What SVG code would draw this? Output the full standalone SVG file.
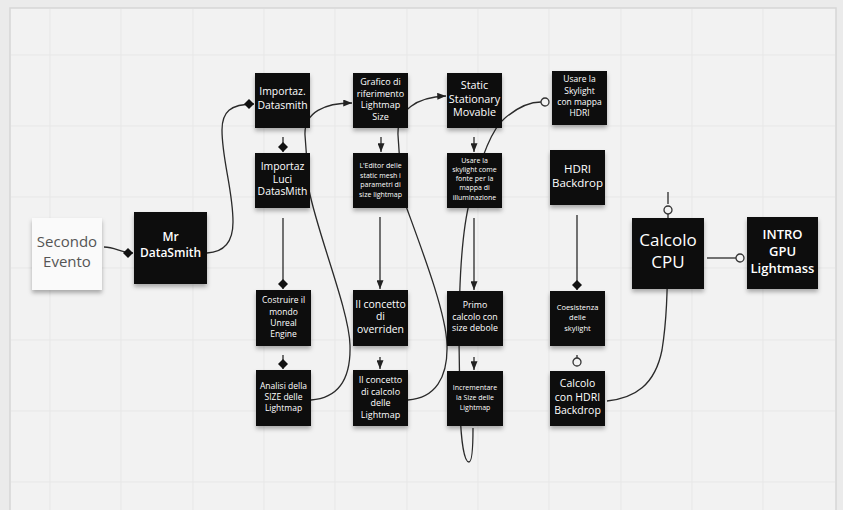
<svg xmlns="http://www.w3.org/2000/svg" width="843" height="510" viewBox="0 0 843 510">
<defs>
<style>
.note{fill:#0e0e0e;filter:url(#sh)}
.light{fill:#fafafa;filter:url(#sh)}
.t{font-family:"Open Sans","Noto Sans","Liberation Sans",sans-serif;fill:#fff;text-anchor:middle}
.g{stroke:#e7e7e7;stroke-width:1}
.c{fill:none;stroke:#2a2a2a;stroke-width:1.3}
</style>
<filter id="sh" x="-20%" y="-20%" width="140%" height="150%">
<feDropShadow dx="0" dy="3" stdDeviation="2" flood-color="#000" flood-opacity="0.3"/>
</filter>
<marker id="arr" viewBox="0 0 10 8" refX="10" refY="4" markerWidth="9" markerHeight="7" orient="auto" markerUnits="userSpaceOnUse">
<path d="M0,0 L10,4 L0,8 Z" fill="#222"/>
</marker>
<marker id="dia" viewBox="0 0 10 10" refX="10" refY="5" markerWidth="10" markerHeight="10" orient="auto" markerUnits="userSpaceOnUse">
<path d="M0,5 L5,0 L10,5 L5,10 Z" fill="#111"/>
</marker>
<marker id="cir" viewBox="0 0 10 10" refX="1" refY="5" markerWidth="10" markerHeight="10" orient="auto" markerUnits="userSpaceOnUse">
<circle cx="5" cy="5" r="4" fill="#f4f4f4" stroke="#333" stroke-width="1.3"/>
</marker>
</defs>
<rect x="0" y="0" width="843" height="510" fill="#ebebeb"/>
<rect x="10" y="8" width="826" height="510" fill="#f2f2f2" stroke="#d6d6d6" stroke-width="1.5"/>
<g id="grid">
<path class="g" d="M50,9V510M121,9V510M193,9V510M264,9V510M335,9V510M407,9V510M478,9V510M549,9V510M621,9V510M692,9V510M763,9V510"/>
<path class="g" d="M11,55H835M11,126H835M11,197H835M11,268H835M11,340H835M11,411H835M11,482H835"/>
</g>
<g id="connectors">
<path class="c" d="M104,247 C116,247 120,253 133,253" marker-end="url(#dia)"/>
<path class="c" d="M207,253 C226,252 233,240 233,222 C233,190 222,160 222,130 C222,112 230,104 254,104" marker-end="url(#dia)"/>
<path class="c" d="M283,137 L283,152" marker-end="url(#dia)"/>
<path class="c" d="M283,218 L283,289" marker-end="url(#dia)"/>
<path class="c" d="M283,355 L283,369" marker-end="url(#dia)"/>
<path class="c" d="M311,400 C340,398 351,378 350,345 C349,310 318,235 309,190 L305,135 C304,112 325,103 352,103" marker-end="url(#arr)"/>
<path class="c" d="M381,137 L381,152" marker-end="url(#arr)"/>
<path class="c" d="M380,217 L380,289" marker-end="url(#arr)"/>
<path class="c" d="M380,357 L380,369" marker-end="url(#arr)"/>
<path class="c" d="M408,400 C435,398 448,378 447,345 C446,310 418,240 402,195 L398,135 C397,110 417,97 446,96" marker-end="url(#arr)"/>
<path class="c" d="M474,137 L474,152" marker-end="url(#arr)"/>
<path class="c" d="M474,218 L474,290" marker-end="url(#arr)"/>
<path class="c" d="M474,357 L474,370" marker-end="url(#arr)"/>
<path class="c" d="M473,428 C473,450 472,462 469,462 C464,462 461,440 460,410 L459,340 C459,280 462,230 470,200 C478,168 490,130 505,118 C518,107 530,102 541,102" marker-end="url(#cir)"/>
<path class="c" d="M577,215 L577,290" marker-end="url(#dia)"/>
<path class="c" d="M577,355 L577,358" marker-end="url(#cir)"/>
<path class="c" d="M607,401 C635,398 655,385 662,350 C666,325 668,300 668,214" marker-end="url(#cir)"/>
<path class="c" d="M668,204 L668,192"/>
<path class="c" d="M707,258 L736,258" marker-end="url(#cir)"/>
</g>
<g id="n-secondo">
<rect class="light" x="32" y="218" width="70" height="72"/>
<text class="t" style="fill:#555;font-size:15px"><tspan x="67" y="247">Secondo</tspan><tspan x="67" y="267">Evento</tspan></text>
</g>
<g id="n-mr">
<rect class="note" x="134" y="212" width="73" height="72"/>
<text class="t" style="font-size:12px;font-weight:600"><tspan x="170.5" y="241">Mr</tspan><tspan x="170.5" y="256.5">DataSmith</tspan></text>
</g>
<g id="n-importaz">
<rect class="note" x="255" y="73" width="55" height="55"/>
<text class="t" style="font-size:10.4px"><tspan x="282.5" y="95">Importaz.</tspan><tspan x="282.5" y="108.5">Datasmith</tspan></text>
</g>
<g id="n-luci">
<rect class="note" x="255" y="153" width="55" height="55"/>
<text class="t" style="font-size:10.4px"><tspan x="282.5" y="170">Importaz</tspan><tspan x="282.5" y="182.5">Luci</tspan><tspan x="282.5" y="195">DatasMith</tspan></text>
</g>
<g id="n-costruire">
<rect class="note" x="256" y="290" width="55" height="56"/>
<text class="t" style="font-size:8.5px"><tspan x="283.5" y="303">Costruire il</tspan><tspan x="283.5" y="315">mondo</tspan><tspan x="283.5" y="326">Unreal</tspan><tspan x="283.5" y="337">Engine</tspan></text>
</g>
<g id="n-analisi">
<rect class="note" x="256" y="370" width="55" height="56"/>
<text class="t" style="font-size:8.5px"><tspan x="283.5" y="389">Analisi della</tspan><tspan x="283.5" y="400">SIZE delle</tspan><tspan x="283.5" y="411">Lightmap</tspan></text>
</g>
<g id="n-grafico">
<rect class="note" x="353" y="73" width="55" height="55"/>
<text class="t" style="font-size:9px"><tspan x="380.5" y="85">Grafico di</tspan><tspan x="380.5" y="96.5">riferimento</tspan><tspan x="380.5" y="108">Lightmap</tspan><tspan x="380.5" y="120">Size</tspan></text>
</g>
<g id="n-editor">
<rect class="note" x="353" y="153" width="55" height="55"/>
<text class="t" style="font-size:7px"><tspan x="380.5" y="168">L'Editor delle</tspan><tspan x="380.5" y="177.5">static mesh i</tspan><tspan x="380.5" y="187">parametri di</tspan><tspan x="380.5" y="196.5">size lightmap</tspan></text>
</g>
<g id="n-overriden">
<rect class="note" x="353" y="290" width="55" height="56"/>
<text class="t" style="font-size:10.4px"><tspan x="380.5" y="307.5">Il concetto</tspan><tspan x="380.5" y="320">di</tspan><tspan x="380.5" y="332.5">overriden</tspan></text>
</g>
<g id="n-calcolo-lm">
<rect class="note" x="353" y="370" width="55" height="56"/>
<text class="t" style="font-size:9px"><tspan x="380.5" y="383">Il concetto</tspan><tspan x="380.5" y="394.5">di calcolo</tspan><tspan x="380.5" y="406">delle</tspan><tspan x="380.5" y="417.5">Lightmap</tspan></text>
</g>
<g id="n-static">
<rect class="note" x="447" y="73" width="55" height="55"/>
<text class="t" style="font-size:10.8px"><tspan x="474.5" y="89">Static</tspan><tspan x="474.5" y="102.5">Stationary</tspan><tspan x="474.5" y="116">Movable</tspan></text>
</g>
<g id="n-usare-sky">
<rect class="note" x="447" y="153" width="55" height="55"/>
<text class="t" style="font-size:7px"><tspan x="474.5" y="162.5">Usare la</tspan><tspan x="474.5" y="171.5">skylight come</tspan><tspan x="474.5" y="180.5">fonte per la</tspan><tspan x="474.5" y="190">mappa di</tspan><tspan x="474.5" y="199.5">illuminazione</tspan></text>
</g>
<g id="n-primo">
<rect class="note" x="447" y="291" width="56" height="55"/>
<text class="t" style="font-size:8.8px"><tspan x="475" y="308">Primo</tspan><tspan x="475" y="319.5">calcolo con</tspan><tspan x="475" y="331">size debole</tspan></text>
</g>
<g id="n-incrementare">
<rect class="note" x="447" y="371" width="56" height="55"/>
<text class="t" style="font-size:7px"><tspan x="475" y="389.5">Incrementare</tspan><tspan x="475" y="399.5">la Size delle</tspan><tspan x="475" y="409.5">Lightmap</tspan></text>
</g>
<g id="n-usare-hdri">
<rect class="note" x="552" y="71" width="55" height="54"/>
<text class="t" style="font-size:8.5px"><tspan x="579.5" y="82">Usare la</tspan><tspan x="579.5" y="93.5">Skylight</tspan><tspan x="579.5" y="105">con mappa</tspan><tspan x="579.5" y="116">HDRI</tspan></text>
</g>
<g id="n-hdri">
<rect class="note" x="550" y="150" width="55" height="55"/>
<text class="t" style="font-size:11.5px"><tspan x="577.5" y="173">HDRI</tspan><tspan x="577.5" y="187">Backdrop</tspan></text>
</g>
<g id="n-coesistenza">
<rect class="note" x="550" y="291" width="55" height="55"/>
<text class="t" style="font-size:7.5px"><tspan x="577.5" y="309.5">Coesistenza</tspan><tspan x="577.5" y="319.5">delle</tspan><tspan x="577.5" y="330.5">skylight</tspan></text>
</g>
<g id="n-calcolo-hdri">
<rect class="note" x="550" y="371" width="55" height="55"/>
<text class="t" style="font-size:10.5px"><tspan x="577.5" y="387">Calcolo</tspan><tspan x="577.5" y="400.5">con HDRI</tspan><tspan x="577.5" y="414">Backdrop</tspan></text>
</g>
<g id="n-cpu">
<rect class="note" x="632" y="218" width="72" height="71"/>
<text class="t" style="font-size:17px"><tspan x="668" y="246">Calcolo</tspan><tspan x="668" y="268">CPU</tspan></text>
</g>
<g id="n-intro">
<rect class="note" x="747" y="217" width="71" height="72"/>
<text class="t" style="font-size:13px;font-weight:600"><tspan x="782.5" y="239">INTRO</tspan><tspan x="782.5" y="256">GPU</tspan><tspan x="782.5" y="273">Lightmass</tspan></text>
</g>
</svg>
